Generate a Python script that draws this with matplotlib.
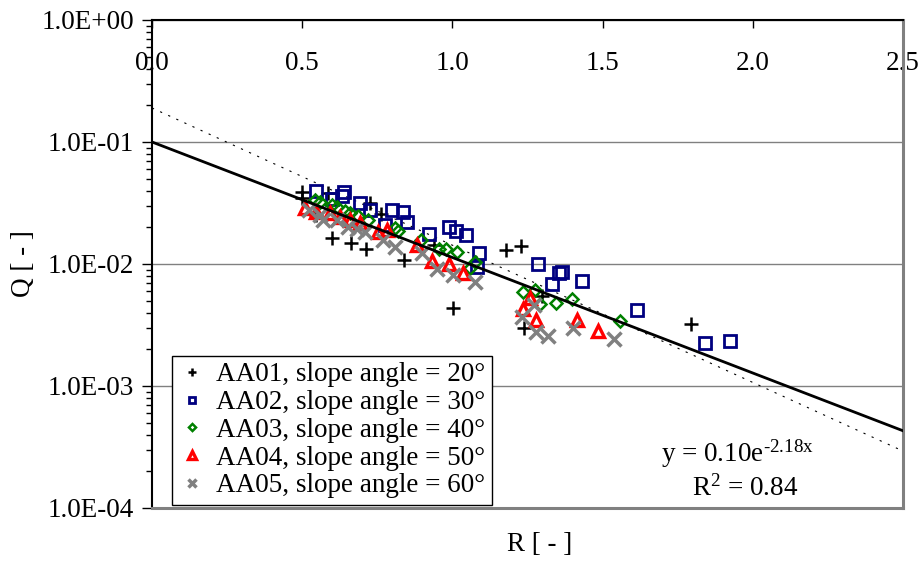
import matplotlib
matplotlib.use('Agg')
import matplotlib.pyplot as plt
import numpy as np
from matplotlib.ticker import FuncFormatter, LogLocator, NullFormatter

plt.rcParams['font.family'] = ['Liberation Serif', 'DejaVu Serif']
plt.rcParams['mathtext.fontset'] = 'custom'
plt.rcParams['mathtext.rm'] = 'Liberation Serif'
plt.rcParams['mathtext.default'] = 'regular'

# --- data (R, Q) ---
aa01_r = [0.499, 0.499, 0.546, 0.586, 0.599, 0.662, 0.712, 0.726, 0.762, 0.839,
          0.939, 1.002, 1.178, 1.228, 1.238, 1.298, 1.794]
aa01_q = [0.0389, 0.0348, 0.0252, 0.0382, 0.0163, 0.0149, 0.0133, 0.0316, 0.0257, 0.0108,
          0.0143, 0.00436, 0.0130, 0.0141, 0.00299, 0.00547, 0.00322]

aa02_r = [0.546, 0.599, 0.632, 0.639, 0.692, 0.726, 0.776, 0.799, 0.836, 0.849,
          0.922, 0.989, 1.012, 1.045, 1.089, 1.082, 1.285, 1.332, 1.355, 1.365,
          1.431, 1.615, 1.841, 1.924]
aa02_q = [0.0397, 0.0341, 0.0361, 0.0389, 0.0316, 0.0277, 0.0209, 0.0277, 0.0267, 0.0221,
          0.0176, 0.0201, 0.0186, 0.0173, 0.0123, 0.00945, 0.0100, 0.00686, 0.00844, 0.00860,
          0.00726, 0.00420, 0.00225, 0.00234]

aa03_r = [0.543, 0.559, 0.599, 0.616, 0.642, 0.659, 0.686, 0.719, 0.809, 0.819,
          0.895, 0.955, 0.979, 1.015, 1.075, 1.059, 1.235, 1.275, 1.292, 1.345,
          1.398, 1.558]
aa03_q = [0.0335, 0.0322, 0.0305, 0.0293, 0.0272, 0.0262, 0.0247, 0.0229, 0.0197, 0.0186,
          0.0157, 0.0133, 0.0133, 0.0125, 0.0104, 0.00927, 0.00589, 0.00612, 0.00470, 0.00479,
          0.00516, 0.00341]

aa04_r = [0.509, 0.546, 0.593, 0.626, 0.659, 0.692, 0.752, 0.782, 0.882, 0.932,
          0.989, 1.035, 1.258, 1.235, 1.278, 1.415, 1.485]
aa04_q = [0.0288, 0.0267, 0.0262, 0.0243, 0.0229, 0.0217, 0.0183, 0.0190, 0.0143, 0.0106,
          0.0100, 0.00844, 0.00526, 0.00428, 0.00348, 0.00348, 0.00282]

aa05_r = [0.523, 0.559, 0.569, 0.616, 0.652, 0.682, 0.709, 0.769, 0.809, 0.899,
          0.949, 1.002, 1.075, 1.272, 1.232, 1.278, 1.318, 1.401, 1.538]
aa05_q = [0.0277, 0.0252, 0.0229, 0.0229, 0.0201, 0.0194, 0.0183, 0.0157, 0.0138, 0.0123,
          0.00910, 0.00813, 0.00712, 0.00461, 0.00368, 0.00277, 0.00257, 0.00299, 0.00243]

labels = ['AA01, slope angle = 20°', 'AA02, slope angle = 30°', 'AA03, slope angle = 40°',
          'AA04, slope angle = 50°', 'AA05, slope angle = 60°']

# trend lines: Q = a * exp(-b * R)
fit_a, fit_b = 0.10, 2.18
ref_a, ref_b = 0.19, 2.59

fs = 19.5

fig = plt.figure(figsize=(9.23, 5.63), dpi=100)
ax = fig.add_axes([0.1647, 0.0977, 0.8136, 0.8668])

ax.plot(aa01_r, aa01_q, ls='none', marker='+', ms=10.5, mew=1.8, color='black', label=labels[0], zorder=3)
ax.plot(aa02_r, aa02_q, ls='none', marker='s', ms=8, mew=2.0, mfc='none', mec='#000080', label=labels[1], zorder=3)
ax.plot(aa03_r, aa03_q, ls='none', marker='D', ms=6, mew=1.8, mfc='none', mec='#008000', label=labels[2], zorder=3)
ax.plot(aa04_r, aa04_q, ls='none', marker='^', ms=8.5, mew=2.4, mfc='none', mec='#ff0000', label=labels[3], zorder=3)
ax.plot(aa05_r, aa05_q, ls='none', marker='x', ms=10, mew=2.5, color='#808080', label=labels[4], zorder=3)

xx = np.linspace(0, 2.5, 200)
ax.plot(xx, fit_a * np.exp(-fit_b * xx), color='black', lw=2, zorder=4)
ax.plot(xx, ref_a * np.exp(-ref_b * xx), color='black', lw=0.8, ls=(0, (2, 6)), zorder=2)

ax.set_yscale('log')
ax.set_ylim(1e-4, 1)
ax.set_xlim(0, 2.5)
ax.yaxis.set_major_locator(LogLocator(base=10, numticks=10))
ax.yaxis.set_minor_locator(LogLocator(base=10, subs=np.arange(2, 10), numticks=10))
ax.yaxis.set_minor_formatter(NullFormatter())
ax.yaxis.set_major_formatter(FuncFormatter(lambda v, p: f'{v:.1E}'))
ax.set_xticks([0, 0.5, 1.0, 1.5, 2.0, 2.5])
ax.xaxis.set_major_formatter(FuncFormatter(lambda v, p: f'{v:.1f}'))

ax.grid(axis='y', which='major', color='#808080', lw=1)
ax.set_axisbelow(True)

ax.tick_params(axis='y', which='major', direction='out', length=7, width=1, labelsize=fs, pad=6)
ax.tick_params(axis='y', which='minor', direction='out', length=4, width=1)
ax.tick_params(axis='x', which='major', top=True, bottom=False, labeltop=True, labelbottom=False,
               direction='in', length=6, width=1, labelsize=fs, pad=-40)

for s in ['top', 'left']:
    ax.spines[s].set_color('black')
    ax.spines[s].set_linewidth(1.5)
for s in ['right', 'bottom']:
    ax.spines[s].set_color('#808080')
    ax.spines[s].set_linewidth(2.2)

ax.set_ylabel('Q [ - ]', fontsize=fs, labelpad=4)
fig.text(0.585, 0.032, 'R [ - ]', fontsize=fs, ha='center', va='center')

ax.text(0.78, 0.112, r'y = 0.10e$^{\text{-}2.18x}$', transform=ax.transAxes, fontsize=fs, ha='center', va='center')
ax.text(0.79, 0.04, r'R$^{2}$ = 0.84', transform=ax.transAxes, fontsize=fs, ha='center', va='center')

leg = ax.legend(loc='lower left', bbox_to_anchor=(0.026, 0.006), fontsize=fs, frameon=True, fancybox=False,
                edgecolor='black', framealpha=1, borderpad=0.25, labelspacing=0.1, handlelength=1.0,
                handletextpad=0.4, borderaxespad=0, markerscale=0.6)
leg.get_frame().set_linewidth(1)

fig.savefig('out.png', dpi=100)
